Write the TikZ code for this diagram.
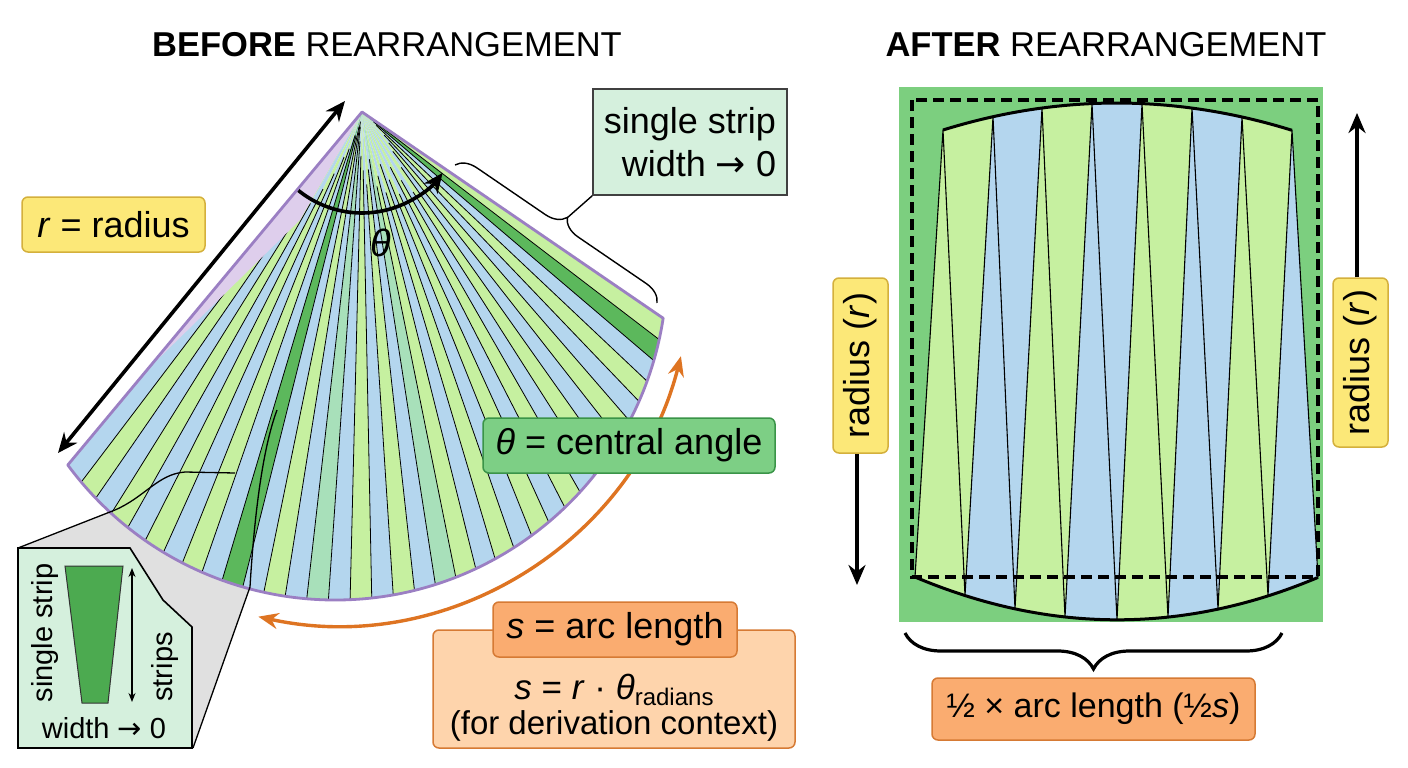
\documentclass[tikz,border=0pt]{standalone}
\usepackage{fontspec}
\setmainfont{Liberation Sans}
\newfontfamily\arrowfont{DejaVu Sans}
\usetikzlibrary{arrows.meta,calc,decorations.pathreplacing}
\definecolor{fg}{RGB}{198,240,160}
\definecolor{fb}{RGB}{180,214,238}
\definecolor{mt}{RGB}{168,224,186}
\definecolor{dg}{RGB}{92,184,92}
\definecolor{fanpurple}{RGB}{155,127,195}
\definecolor{lav}{RGB}{222,206,236}
\definecolor{yelfill}{RGB}{252,232,120}
\definecolor{yeldraw}{RGB}{212,176,60}
\definecolor{thfill}{RGB}{125,207,133}
\definecolor{thdraw}{RGB}{58,148,72}
\definecolor{orfill}{RGB}{250,172,112}
\definecolor{ordraw}{RGB}{214,122,52}
\definecolor{orlight}{RGB}{254,212,172}
\definecolor{mintbox}{RGB}{213,240,221}
\definecolor{bggreen}{RGB}{124,207,127}
\definecolor{orarrow}{RGB}{222,116,34}
\definecolor{callgrey}{RGB}{224,224,224}
\definecolor{trapgreen}{RGB}{76,170,80}
\newcommand{\arr}{{\arrowfont →}}
\begin{document}
\begin{tikzpicture}[x=1pt,y=-1pt,
  lbl/.style={font=\fontsize{36}{40}\selectfont, inner sep=0pt},
  ybox/.style={lbl, draw=yeldraw, fill=yelfill, line width=1.5pt, rounded corners=6pt},
  mbox/.style={lbl, draw=black!75, fill=mintbox, line width=1.5pt},
  tbox/.style={lbl, draw=thdraw, fill=thfill, line width=1.5pt, rounded corners=6pt},
  obox/.style={lbl, draw=ordraw, fill=orfill, line width=1.5pt, rounded corners=6pt},
  olbox/.style={draw=ordraw, fill=orlight, line width=1.5pt, rounded corners=6pt, inner sep=0pt},
  insettxt/.style={font=\fontsize{29}{34}\selectfont, inner sep=0pt},
  blk/.style={line width=3.6pt, -{Stealth[length=20pt,width=17pt]}},
  dblk/.style={line width=3.6pt, {Stealth[length=20pt,width=17pt]}-{Stealth[length=20pt,width=17pt]}},
  stripline/.style={draw=black, line width=0.8pt},
]
\useasboundingbox (0,0) rectangle (1408,768);
\fill[white] (0,0) rectangle (1408,768);

% titles
\node[font=\fontsize{34.5}{40}\selectfont] (t1) at (387,45) {\textbf{BEFORE} REARRANGEMENT};
\node[font=\fontsize{34.5}{40}\selectfont] (t2) at (1106,45) {\textbf{AFTER} REARRANGEMENT};

% callout grey region
\fill[callgrey] (18,548) -- (115,510) -- (250,587) -- (193,748) -- (18,748) -- cycle;

% fan
\coordinate (A) at (362,112);
\coordinate (C) at (335,268);
\foreach \i/\c in {0/fb,1/fg,2/fb,3/fg,4/fb,5/fg,6/fb,7/fg,8/fb,9/dg,10/fb,11/fg,12/fb,13/mt,14/fb,15/fg,16/fb,17/fg,18/fb,19/mt,20/fg,21/fb,22/fg,23/fb,24/fg,25/fb,26/fg,27/fb,28/fg,29/fb,30/fg,31/fb,32/fg,33/fb,34/dg,35/fg}{
  \pgfmathsetmacro\aa{143.6-\i*3.7472}
  \pgfmathsetmacro\ab{143.6-(\i+1)*3.7472}
  \fill[\c] (A) -- ($(C)+(\aa:332)$) arc[start angle=\aa, end angle=\ab, radius=332] -- cycle;
}
\foreach \i/\f in {1/0.40,2/0.30,3/0.26,4/0.22,5/0.18,6/0.14,7/0.10,8/0.08,9/0.05,10/0.05,11/0.03,12/0.02,13/0.03,14/0.06,15/0.09,16/0.12,17/0.15,18/0.12,19/0.10,20/0.16,21/0.14,22/0.18,23/0.12,24/0.16,25/0.20,26/0.14,27/0.18,28/0.22,29/0.16,30/0.12,31/0.10,32/0.08,33/0.05,34/0.04,35/0.03}{
  \pgfmathsetmacro\aa{143.6-\i*3.7472}
  \draw[stripline] ($(A)!\f!($(C)+(\aa:332)$)$) -- ($(C)+(\aa:332)$);
}
\fill[lav] (A) -- (149,368) -- (300,220) -- cycle;
\draw[fanpurple, line width=2.8pt, line join=round] (A) -- ($(C)+(143.6:332)$) arc[start angle=143.6, end angle=8.7, radius=332] -- cycle;

% callout lines
\draw[line width=1.3pt] (18,548) -- (115,510) .. controls (145,497) and (158,474) .. (185,472) -- (235,473);
\draw[line width=1.3pt] (193,748) -- (250,587) .. controls (254,520) and (262,450) .. (277,410);

% inset box
\filldraw[fill=mintbox, draw=black, line width=1.6pt] (18,548) -- (130,548) -- (163,600) -- (192,627) -- (192,748) -- (18,748) -- cycle;
\filldraw[fill=trapgreen, draw=black!80, line width=1pt] (65,566) -- (123,566) -- (108,703) -- (82,703) -- cycle;
\coordinate (ia) at (132,568);
\coordinate (ib) at (132,702);
\draw[line width=1.2pt, {Stealth[length=9pt,width=7pt]}-{Stealth[length=9pt,width=7pt]}] (ia) -- (ib);
\node[insettxt, rotate=90] (ss) at (45,633) {single strip};
\node[insettxt, rotate=90] (st) at (165,667) {strips};
\node[insettxt] (wz) at (104,728) {width \arr{} 0};

% theta arc
\draw[blk] ($(A)+(129:101)$) arc[start angle=129, end angle=37, radius=101];
\node[font=\fontsize{38}{40}\selectfont\itshape] (th) at (381,243) {θ};

% radius arrow
\coordinate (ra) at (345,101);
\coordinate (rb) at (58,453);
\draw[dblk] (ra) -- (rb);
\node[ybox, minimum width=183pt, minimum height=55pt] (rr1) at (113.5,224.5) {\textit{r} = radius};

% single strip box + brace
\node[mbox, minimum width=194pt, minimum height=106pt, align=right] (sb) at (690,142) {single strip\\[3pt]width \arr{} 0};
\draw[decorate, decoration={brace, amplitude=20pt}, line width=1.4pt] (455,165) -- (657,303);
\coordinate (bt) at (567,218);
\draw[line width=1.4pt] (bt) -- (sb.south west);

% orange arc
\draw[line width=3.4pt, orarrow, {Stealth[length=20pt,width=16pt]}-{Stealth[length=20pt,width=16pt]}] ($(C)+(102.4:357)$) arc[start angle=102.4, end angle=14.3, radius=357];

% theta box
\node[tbox, minimum width=292pt, minimum height=55pt] (tb) at (629,445.5) {\textit{θ} = central angle};

% s boxes
\node[olbox, minimum width=362pt, minimum height=118pt] (big) at (614,689) {};
\node[obox, minimum width=244pt, minimum height=55pt] (sbx) at (615,629.5) {\textit{s} = arc length};
\node[font=\fontsize{35}{40}\selectfont, inner sep=0pt] (f1) at (614,690) {\textit{s} = \textit{r} · \textit{θ}\raisebox{-0.3ex}{\fontsize{24}{26}\selectfont radians}};
\node[font=\fontsize{33}{38}\selectfont, inner sep=0pt] (f2) at (614,726) {(for derivation context)};

% ---------- right part ----------
\fill[bggreen] (899,87) rectangle (1323,622);
\coordinate (T0) at (943,130);
\coordinate (T1) at (993,116.7);
\coordinate (T2) at (1042,108);
\coordinate (T3) at (1092,103.6);
\coordinate (T4) at (1142,103.6);
\coordinate (T5) at (1192,108);
\coordinate (T6) at (1242,116.9);
\coordinate (T7) at (1292,130.3);
\coordinate (B0) at (915,577);
\coordinate (B1) at (965,595.6);
\coordinate (B2) at (1015,609);
\coordinate (B3) at (1065,617.2);
\coordinate (B4) at (1117,620);
\coordinate (B5) at (1168,617.3);
\coordinate (B6) at (1218,609.3);
\coordinate (B7) at (1268,596);
\coordinate (B8) at (1318,577.4);
\foreach \i/\c in {0/fg,1/fb,2/fg,3/fb,4/fg,5/fb,6/fg,7/fb}{
  \pgfmathtruncatemacro\j{\i+1}
  \fill[\c] (B\i) -- (B\j) -- (T\i) -- cycle;
}
\foreach \i/\c in {0/fg,1/fb,2/fg,3/fb,4/fg,5/fb,6/fg}{
  \pgfmathtruncatemacro\j{\i+1}
  \fill[\c] (T\i) -- (T\j) -- (B\j) -- cycle;
}
\draw[line width=1.1pt, line join=round] (B0) -- (T0) -- (B1) -- (T1) -- (B2) -- (T2) -- (B3) -- (T3) -- (B4) -- (T4) -- (B5) -- (T5) -- (B6) -- (T6) -- (B7) -- (T7) -- (B8);
\draw[line width=3pt] (T0) .. controls (1059,94) and (1175,94) .. (T7);
\draw[line width=3pt] (B0) .. controls (1050,634) and (1184,634) .. (B8);
\draw[line width=3.2pt, dash pattern=on 11pt off 6pt] (912,100) rectangle (1318,577);

% radius labels
\node[ybox, rotate=90, minimum width=175pt, minimum height=55pt] (rl) at (860.5,365.5) {radius (\textit{r})};
\coordinate (rlend) at (857,585);
\draw[blk] (rl.west -| rlend) -- (rlend);
\node[ybox, rotate=90, minimum width=169pt, minimum height=55pt] (rrt) at (1360.5,362.5) {radius (\textit{r})};
\coordinate (rrend) at (1357,113);
\draw[blk] (rrt.east -| rrend) -- (rrend);

% bottom brace and label
\draw[decorate, decoration={brace, amplitude=36pt}, line width=3.2pt] (1282,633) -- (905,633);
\node[obox, font=\fontsize{34}{40}\selectfont, minimum width=323pt, minimum height=62pt] (hb) at (1093.5,709) {½ × arc length (½\textit{s})};
\end{tikzpicture}
\end{document}
